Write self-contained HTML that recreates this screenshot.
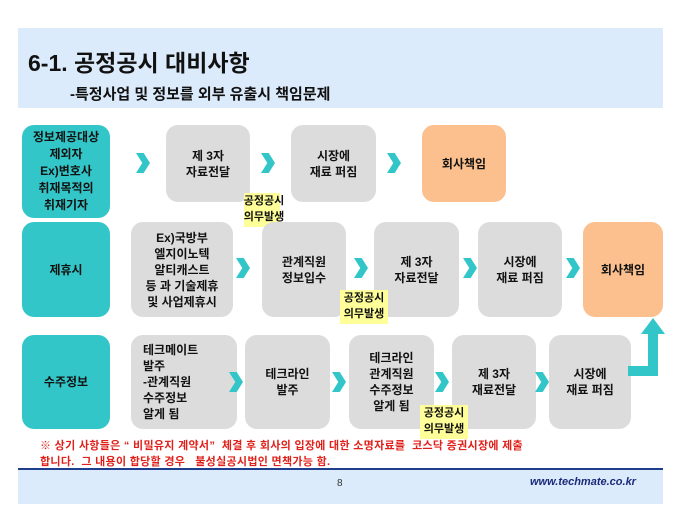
<!DOCTYPE html>
<html><head><meta charset="utf-8"><style>
body{margin:0;width:680px;height:510px;background:#fff;position:relative;overflow:hidden;font-family:"Liberation Sans","Noto Sans CJK KR",sans-serif;}
.a{position:absolute;box-sizing:border-box;}
.bx{position:absolute;display:flex;align-items:center;justify-content:center;text-align:center;border-radius:12px;font-weight:bold;font-size:12px;line-height:16px;color:#111;}
.t{background:#33c6c8;}
.g{background:#dcdcdc;}
.o{background:#fbc08e;}
.y{position:absolute;background:#ffff99;font-weight:bold;font-size:11px;line-height:16px;text-align:center;color:#111;}
.ch{position:absolute;width:14px;height:20px;background:#33c6c8;clip-path:polygon(0 0,55% 0,100% 50%,55% 100%,0 100%,45% 50%);}
</style></head><body>
<div class="a" style="left:18px;top:28px;width:645px;height:80px;background:#dcebfb"></div>
<div class="a" style="left:28px;top:44px;font-size:23px;font-weight:bold;color:#111">6-1. 공정공시 대비사항</div>
<div class="a" style="left:70px;top:83px;font-size:15px;font-weight:bold;color:#111">-특정사업 및 정보를 외부 유출시 책임문제</div>

<div class="bx t" style="left:22px;top:125px;width:88px;height:93px;font-size:12px;line-height:17px">정보제공대상<br>제외자<br>Ex)변호사<br>취재목적의<br>취재기자</div>
<div class="ch" style="left:136px;top:153px"></div>
<div class="bx g" style="left:166px;top:125px;width:84px;height:77px">제 3자<br>자료전달</div>
<div class="ch" style="left:261px;top:153px"></div>
<div class="bx g" style="left:291px;top:125px;width:85px;height:77px">시장에<br>재료 퍼짐</div>
<div class="ch" style="left:387px;top:153px"></div>
<div class="bx o" style="left:422px;top:125px;width:84px;height:77px">회사책임</div>
<div class="y" style="left:244px;top:193px;width:36px;height:34px"></div>
<div class="y" style="left:240px;top:193px;width:48px;background:transparent">공정공시<br>의무발생</div>

<div class="bx t" style="left:22px;top:222px;width:88px;height:95px">제휴시</div>
<div class="bx g" style="left:131px;top:222px;width:102px;height:95px">Ex)국방부<br>엘지이노텍<br>알티캐스트<br>등 과 기술제휴<br>및 사업제휴시</div>
<div class="ch" style="left:236px;top:258px"></div>
<div class="bx g" style="left:262px;top:222px;width:84px;height:95px">관계직원<br>정보입수</div>
<div class="ch" style="left:354px;top:258px"></div>
<div class="bx g" style="left:374px;top:222px;width:85px;height:95px">제 3자<br>자료전달</div>
<div class="ch" style="left:463px;top:258px"></div>
<div class="bx g" style="left:478px;top:222px;width:84px;height:95px">시장에<br>재료 퍼짐</div>
<div class="ch" style="left:566px;top:258px"></div>
<div class="bx o" style="left:583px;top:222px;width:80px;height:95px">회사책임</div>
<div class="y" style="left:340px;top:290px;width:48px;height:34px">공정공시<br>의무발생</div>

<div class="bx t" style="left:22px;top:335px;width:88px;height:94px">수주정보</div>
<div class="bx g" style="left:131px;top:335px;width:94px;height:94px;text-align:left;justify-content:flex-start;padding-left:12px">테크메이트<br>발주<br>-관계직원<br>수주정보<br>알게 됨</div>
<div class="ch" style="left:229px;top:372px"></div>
<div class="bx g" style="left:245px;top:335px;width:85px;height:94px">테크라인<br>발주</div>
<div class="ch" style="left:332px;top:372px"></div>
<div class="bx g" style="left:349px;top:335px;width:85px;height:94px">테크라인<br>관계직원<br>수주정보<br>알게 됨</div>
<div class="ch" style="left:435px;top:372px"></div>
<div class="bx g" style="left:452px;top:335px;width:84px;height:94px">제 3자<br>재료전달</div>
<div class="ch" style="left:535px;top:372px"></div>
<div class="bx g" style="left:549px;top:335px;width:82px;height:94px">시장에<br>재료 퍼짐</div>
<div class="y" style="left:420px;top:405px;width:48px;height:34px">공정공시<br>의무발생</div>
<svg class="a" style="left:628px;top:316px" width="40" height="70"><path d="M0 50 H20 V18 H13 L25 2 L37 18 H30 V60 H0 Z" fill="#33c6c8"/></svg>

<div class="a" style="left:40px;top:438px;font-size:11px;font-weight:bold;color:#e0201a;line-height:16px;white-space:nowrap;letter-spacing:0.3px">※ 상기 사항들은 “ 비밀유지 계약서”&nbsp; 체결 후 회사의 입장에 대한 소명자료를&nbsp; 코스닥 증권시장에 제출<br>합니다.&nbsp; 그 내용이 합당할 경우&nbsp;&nbsp; 불성실공시법인 면책가능 함.</div>
<div class="a" style="left:18px;top:468px;width:645px;height:2px;background:#1f3f8c"></div>
<div class="a" style="left:18px;top:470px;width:645px;height:34px;background:#dcebfb"></div>
<div class="a" style="left:337px;top:478px;font-size:10px;color:#333">8</div>
<div class="a" style="left:530px;top:476px;font-size:11px;font-weight:bold;font-style:italic;color:#1a2a7a">www.techmate.co.kr</div>
</body></html>
